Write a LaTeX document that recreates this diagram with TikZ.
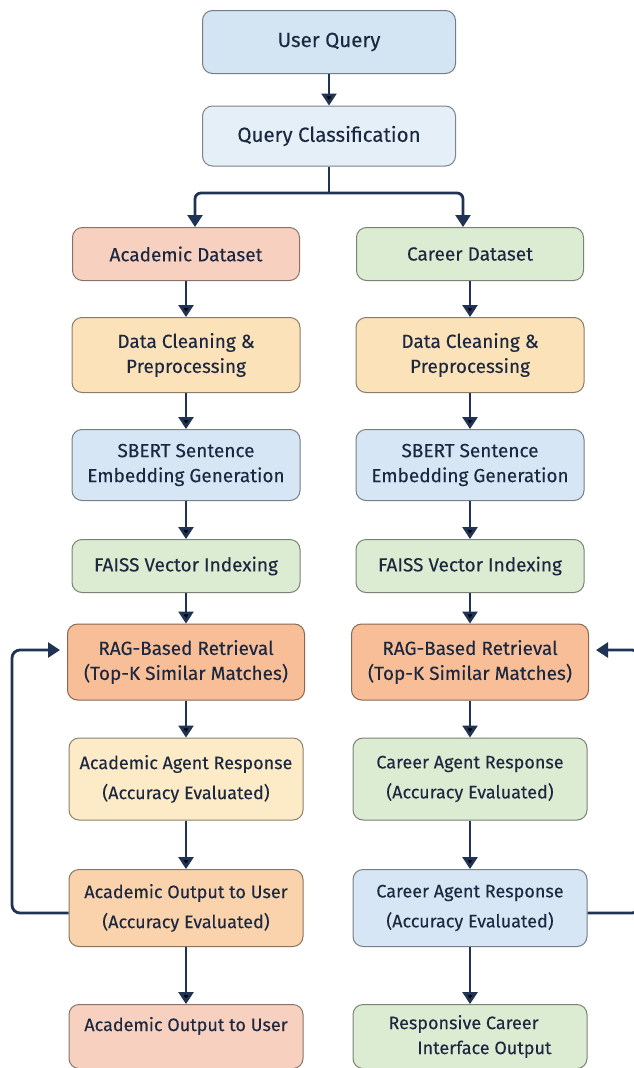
\documentclass[tikz,border=0pt]{standalone}
\usepackage{fontspec}
\setmainfont{Fira Sans}[FakeBold=0.15]
\usetikzlibrary{arrows.meta}

\definecolor{navy}{HTML}{1F3354}
\definecolor{inkblue}{HTML}{1C2840}
\definecolor{uqblue}{HTML}{D3E4F3}
\definecolor{qcblue}{HTML}{E4EFF8}
\definecolor{salmon}{HTML}{F8D0C0}
\definecolor{mint}{HTML}{DCECD2}
\definecolor{cream}{HTML}{FBE2B9}
\definecolor{sky}{HTML}{D6E6F4}
\definecolor{peach}{HTML}{F7BE97}
\definecolor{butter}{HTML}{FCEBC6}
\definecolor{apricot}{HTML}{FAD3AC}

\begin{document}
\begin{tikzpicture}[x=1pt,y=-1pt,
    box/.style={rectangle, rounded corners=10pt, fill=#1, draw=#1!55!black,
        line width=1pt, align=center, text=inkblue,
        font=\fontsize{19}{25}\selectfont},
    arr/.style={-{Triangle[length=12pt,width=15pt]}, line width=2.8pt, draw=navy},
    line/.style={line width=2.8pt, draw=navy}]
    \useasboundingbox (0,0) rectangle (634,1068);

    \node[box=uqblue, minimum width=253pt, minimum height=63pt,
          font=\fontsize{20.5}{23}\selectfont] (uq) at (329,42) {User Query};
    \node[box=qcblue, minimum width=253pt, minimum height=60pt,
          font=\fontsize{20.5}{23}\selectfont] (qc) at (329,136) {Query Classification};

    \node[box=salmon, minimum width=227pt, minimum height=53pt] (ads) at (186,254) {Academic Dataset};
    \node[box=mint, minimum width=227pt, minimum height=53pt] (cds) at (470,254) {Career Dataset};

    \node[box=cream, minimum width=228pt, minimum height=75pt] (acl) at (186,355) {Data Cleaning \&\\Preprocessing};
    \node[box=cream, minimum width=228pt, minimum height=75pt] (ccl) at (470,355) {Data Cleaning \&\\Preprocessing};

    \node[box=sky, minimum width=228pt, minimum height=71pt] (asb) at (186,465) {SBERT Sentence\\Embedding Generation};
    \node[box=sky, minimum width=228pt, minimum height=71pt] (csb) at (470,465) {SBERT Sentence\\Embedding Generation};

    \node[box=mint, minimum width=228pt, minimum height=53pt] (afs) at (186,566) {FAISS Vector Indexing};
    \node[box=mint, minimum width=228pt, minimum height=53pt] (cfs) at (470,566) {FAISS Vector Indexing};

    \node[box=peach, minimum width=237pt, minimum height=76pt] (arag) at (186,662) {RAG-Based Retrieval\\(Top-K Similar Matches)};
    \node[box=peach, minimum width=237pt, minimum height=76pt] (crag) at (470,662) {RAG-Based Retrieval\\(Top-K Similar Matches)};

    \node[box=butter, minimum width=234pt, minimum height=82pt, font=\fontsize{18}{30}\selectfont] (aag) at (186,779) {Academic Agent Response\\(Accuracy Evaluated)};
    \node[box=mint, minimum width=234pt, minimum height=82pt, font=\fontsize{18}{30}\selectfont] (cag) at (470,779) {Career Agent Response\\(Accuracy Evaluated)};

    \node[box=apricot, minimum width=234pt, minimum height=77pt, font=\fontsize{18}{30}\selectfont] (aout) at (186,908) {Academic Output to User\\(Accuracy Evaluated)};
    \node[box=sky, minimum width=234pt, minimum height=77pt, font=\fontsize{18}{30}\selectfont] (cagb) at (470,908) {Career Agent Response\\(Accuracy Evaluated)};

    \node[box=salmon, minimum width=234pt, minimum height=64pt, anchor=north, font=\fontsize{18}{25}\selectfont] (afin) at (186,1004) {Academic Output to User\\\mbox{}};
    \node[box=mint, minimum width=234pt, minimum height=64pt, anchor=north, align=left, font=\fontsize{18}{25}\selectfont] (cfin) at (470,1004) {Responsive Career\\\hspace*{1.6em}Interface Output};

    % split below classification
    \coordinate (split) at (329,193);
    \coordinate (lsplit) at (195,193);
    \coordinate (rsplit) at (463,193);
    \path [line] (qc) -- (split);
    \path [arr, rounded corners=6pt] (split) -- (lsplit) -- ([xshift=9pt]ads.north);
    \path [arr, rounded corners=6pt] (split) -- (rsplit) -- ([xshift=-7pt]cds.north);

    \path [arr] (uq) edge (qc);
    \path [arr] (ads) edge (acl);
    \path [arr] (cds) edge (ccl);
    \path [arr] (acl) edge (asb);
    \path [arr] (ccl) edge (csb);
    \path [arr] (asb) edge (afs);
    \path [arr] (csb) edge (cfs);
    \path [arr] (afs) edge (arag);
    \path [arr] (cfs) edge (crag);
    \path [arr] (arag) edge (aag);
    \path [arr] (crag) edge (cag);
    \path [arr] (aag) edge (aout);
    \path [arr] (cag) edge (cagb);
    \path [arr] (aout) edge (afin);
    \path [arr] (cagb) edge (cfin);

    % feedback loops
    \coordinate (lloop) at (12,913);
    \coordinate (rloop) at (640,913);
    \path [arr, rounded corners=8pt, shorten >=7pt] (aout.west |- lloop) -- (lloop) |- ([yshift=12pt]arag.west);
    \path [arr, rounded corners=8pt, shorten >=7pt] (cagb.east |- rloop) -- (rloop) |- ([yshift=12pt]crag.east);

\end{tikzpicture}
\end{document}
